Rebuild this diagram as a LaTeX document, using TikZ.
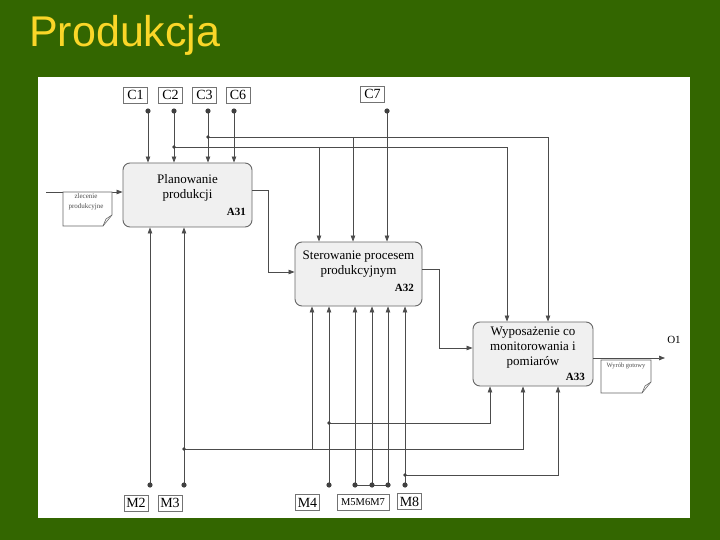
\documentclass[tikz,border=0pt]{standalone}
\usepackage{fontspec}
\setmainfont{Liberation Serif}
\newfontfamily\titlefont{Liberation Sans}
\usetikzlibrary{calc,arrows.meta}
\definecolor{slidegreen}{RGB}{51,102,0}
\definecolor{slideyellow}{RGB}{250,214,40}

\begin{document}
\begin{tikzpicture}[x=1pt, y=-1pt, >={Triangle[length=6pt,width=4.5pt]},
  wire/.style={draw=black!70, line width=0.7pt},
  func/.style={draw=black!60, fill=black!6, line width=0.9pt, rounded corners=7pt,
    minimum width=#1, minimum height=64pt, inner sep=0pt},
  ftext/.style={align=center, font=\fontsize{13}{15}\selectfont},
  fnum/.style={anchor=base east, inner sep=0pt, font=\fontsize{11}{11}\selectfont\bfseries},
  tag/.style={draw=black!55, line width=0.5pt, inner sep=0pt, minimum width=24pt,
    minimum height=16pt, font=\fontsize{14}{14}\selectfont},
  note/.style={align=center, inner sep=0pt, text=black!70, font=\fontsize{7}{9.5}\selectfont}]
  % a document sheet with a folded corner: left, top, right, bottom
  \newcommand{\docsheet}[4]{%
    \draw[black!60, line width=0.6pt, fill=white]
      (#1,#2) -- (#3,#2) -- (#3,#4-11) -- (#3-9,#4) -- (#1,#4) -- cycle;
    \draw[black!60, line width=0.6pt] (#3,#4-11) -- (#3-6,#4-7) -- (#3-9,#4);
  }
  \useasboundingbox (0,0) rectangle (720,540);
  % ------------------------------------------------------------------ slide
  \fill[slidegreen] (0,0) rectangle (720,540);
  \fill[white] (38,77) rectangle (690,518);
  \node[anchor=base west, inner sep=0pt, text=slideyellow,
    font=\titlefont\fontsize{43}{43}\selectfont] (title) at (29,47) {Produkcja};
  % ------------------------------------------------------------------ the three functions
  \node[func=129pt] (a31) at (187.5,195) {};
  \node[ftext] (t31) at (187.5,188) {Planowanie\\produkcji};
  \node[fnum] (n31) at (246,215) {A31};
  \node[func=127pt] (a32) at (358.5,274) {};
  \node[ftext] (t32) at (358.5,264.5) {Sterowanie procesem\\produkcyjnym};
  \node[fnum] (n32) at (414,291) {A32};
  \node[func=120pt] (a33) at (533,354) {};
  \node[ftext] (t33) at (533,348) {Wyposażenie co\\monitorowania i\\pomiarów};
  \node[fnum] (n33) at (585,380) {A33};
  % ------------------------------------------------------------------ controls
  \foreach \n/\t/\x in {c1/C1/135.5, c2/C2/170.5, c3/C3/204.5, c6/C6/238}
    \node[tag] (\n) at (\x,95) {\t};
  \node[tag] (c7) at (372.5,94) {C7};
  \foreach \n/\x in {1/148, 2/174, 3/208, 6/234, 7/387}
    \coordinate (dc\n) at (\x,111);
  \foreach \n in {1,2,3,6}
    \draw[wire,->] (dc\n) -- (dc\n |- a31.north);
  \draw[wire,->] (dc7) -- (dc7 |- a32.north);
  \coordinate (j2) at (174,147);
  \coordinate (k2) at (319,147);
  \coordinate (j3) at (208,137);
  \coordinate (k3) at (353,137);
  \draw[wire,->] (j2) -| ([xshift=-26pt]a33.north);
  \draw[wire,->] (k2) -- (k2 |- a32.north);
  \draw[wire,->] (j3) -| ([xshift=15pt]a33.north);
  \draw[wire,->] (k3) -- (k3 |- a32.north);
  \foreach \n in {1,2,3,6,7}
    \fill[black!75] (dc\n) circle (2.6pt);
  \fill[black!75] (j2) circle (1.8pt) (j3) circle (1.8pt);
  % ------------------------------------------------------------------ mechanisms
  \node[tag] (m2) at (136,503) {M2};
  \node[tag] (m3) at (170,503) {M3};
  \node[tag] (m4) at (307.5,502.5) {M4};
  \node[tag, minimum width=52pt, font=\fontsize{10.5}{10.5}\selectfont] (m567) at (363,502.5) {M5M6M7};
  \node[tag] (m8) at (409.5,501.5) {M8};
  \foreach \n/\x in {2/150, 3/184, 4/329, 5/355, 6/372, 7/388, 8/405}
    \coordinate (dm\n) at (\x,485);
  \foreach \n in {2,3}
    \draw[wire,->] (dm\n) -- (dm\n |- a31.south);
  \foreach \n in {4,...,8}
    \draw[wire,->] (dm\n) -- (dm\n |- a32.south);
  \draw[wire] (dm5) -- (dm7);
  \coordinate (jm3) at (184,449);
  \coordinate (km3) at (312,449);
  \coordinate (jm4) at (329,423);
  \coordinate (jm8) at (405,475);
  \draw[wire,->] (jm3) -| ([xshift=-10pt]a33.south);
  \draw[wire,->] (km3) -- (km3 |- a32.south);
  \draw[wire,->] (jm4) -| ([xshift=-43pt]a33.south);
  \draw[wire,->] (jm8) -| ([xshift=25pt]a33.south);
  \foreach \n in {2,...,8}
    \fill[black!75] (dm\n) circle (2.6pt);
  \fill[black!75] (jm3) circle (1.8pt) (jm4) circle (1.8pt) (jm8) circle (1.8pt);
  % ------------------------------------------------------------------ flow between functions
  \draw[wire,->] ([yshift=5pt]a31.east) -- ++(16,0) |- ([yshift=2pt]a32.west);
  \draw[wire,->] ([yshift=5pt]a32.east) -- ++(17,0) |- ([yshift=6pt]a33.west);
  % ------------------------------------------------------------------ input and output
  \coordinate (in1) at (46,192);
  \draw[wire,->] (in1) -- (in1 -| a31.west);
  \docsheet{63}{192}{112}{226}
  \node[note] (zl) at (86,202) {zlecenie\\produkcyjne};
  \coordinate (o1end) at (665,358);
  \draw[wire,->] (a33.east |- o1end) -- (o1end);
  \node[font=\fontsize{11}{11}\selectfont] (o1) at (674,340) {O1};
  \docsheet{601}{360}{651}{393}
  \node[note, font=\fontsize{6.5}{7}\selectfont] (wg) at (626,366) {Wyrób gotowy};
\end{tikzpicture}
\end{document}
